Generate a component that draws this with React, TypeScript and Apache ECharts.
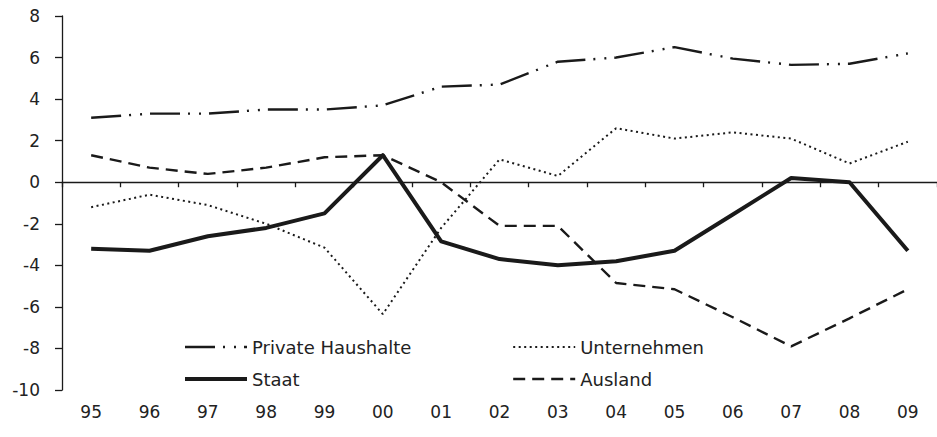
import React, { useEffect, useRef } from "react";
import * as echarts from "echarts";

const years = ["95", "96", "97", "98", "99", "00", "01", "02", "03", "04", "05", "06", "07", "08", "09"];
const privateHaushalte = [3.1, 3.3, 3.3, 3.5, 3.5, 3.7, 4.6, 4.7, 5.8, 6.0, 6.5, 5.95, 5.65, 5.7, 6.2];
const unternehmen = [-1.2, -0.6, -1.1, -2.0, -3.15, -6.35, -2.2, 1.1, 0.3, 2.6, 2.1, 2.4, 2.1, 0.9, 1.95];
const staat = [-3.2, -3.3, -2.6, -2.2, -1.5, 1.3, -2.85, -3.7, -4.0, -3.8, -3.3, -1.55, 0.2, 0.0, -3.3];
const ausland = [1.3, 0.7, 0.4, 0.7, 1.2, 1.3, 0.0, -2.1, -2.1, -4.85, -5.15, -6.5, -7.9, -6.55, -5.15];
const yMin = -10;
const yMax = 8;
const yStep = 2;

const FONT = "'DejaVu Sans', sans-serif";
const INK = "#1a1a1a";

export default function App() {
  const ref = useRef<HTMLDivElement>(null);
  useEffect(() => {
    if (!ref.current) return;
    const chart = echarts.init(ref.current, undefined, { renderer: "svg" });
    const legendText = { fontFamily: FONT, fontSize: 18, color: "#222", lineHeight: 20 };
    const legendBase = {
      orient: "vertical",
      top: 332,
      itemWidth: 62,
      itemHeight: 20,
      itemGap: 12,
      itemStyle: { opacity: 0 },
      lineStyle: { width: "inherit", type: "inherit", color: "inherit" },
      textStyle: legendText,
      selectedMode: false,
    };
    chart.setOption({
      animation: false,
      backgroundColor: "#ffffff",
      grid: { left: 62, right: 0, top: 16, bottom: 47, containLabel: false },
      legend: [
        { ...legendBase, left: 178, data: ["Private Haushalte", "Staat"] },
        { ...legendBase, left: 507, data: ["Unternehmen", "Ausland"] },
      ],
      xAxis: [
        {
          type: "category",
          data: years,
          position: "bottom",
          boundaryGap: true,
          axisLine: { show: false, onZero: false },
          axisTick: { show: false },
          axisLabel: { fontFamily: FONT, fontSize: 17, color: "#222", margin: 13 },
          splitLine: { show: false },
        },
        {
          type: "category",
          data: years,
          position: "bottom",
          boundaryGap: true,
          axisLine: { show: true, onZero: true, onZeroAxisIndex: 0, lineStyle: { color: INK, width: 1.3 } },
          axisTick: { show: true, length: 5, lineStyle: { color: INK, width: 1.3 } },
          axisLabel: { show: false },
          splitLine: { show: false },
        },
      ],
      yAxis: {
        type: "value",
        min: yMin,
        max: yMax,
        interval: yStep,
        axisLine: { show: true, lineStyle: { color: INK, width: 1.3 } },
        axisTick: { show: true, length: 7, lineStyle: { color: INK, width: 1.3 } },
        axisLabel: { fontFamily: FONT, fontSize: 17, color: "#222", margin: 22 },
        splitLine: { show: false },
      },
      series: [
        {
          name: "Private Haushalte",
          type: "line",
          data: privateHaushalte,
          symbol: "none",
          lineStyle: { color: INK, width: 2.4, type: [30, 8, 2, 9, 2, 8] },
          itemStyle: { color: INK },
        },
        {
          name: "Unternehmen",
          type: "line",
          data: unternehmen,
          symbol: "none",
          lineStyle: { color: INK, width: 2, type: [2, 3.5] },
          itemStyle: { color: INK },
        },
        {
          name: "Staat",
          type: "line",
          data: staat,
          symbol: "none",
          lineStyle: { color: INK, width: 4, join: "round" },
          itemStyle: { color: INK },
        },
        {
          name: "Ausland",
          type: "line",
          data: ausland,
          symbol: "none",
          lineStyle: { color: INK, width: 2.4, type: [12, 7] },
          itemStyle: { color: INK },
        },
      ],
    });
    return () => chart.dispose();
  }, []);
  return (
    <div
      ref={ref}
      style={{ position: "fixed", left: 0, top: 0, width: 937, height: 437, background: "#fff" }}
    />
  );
}
